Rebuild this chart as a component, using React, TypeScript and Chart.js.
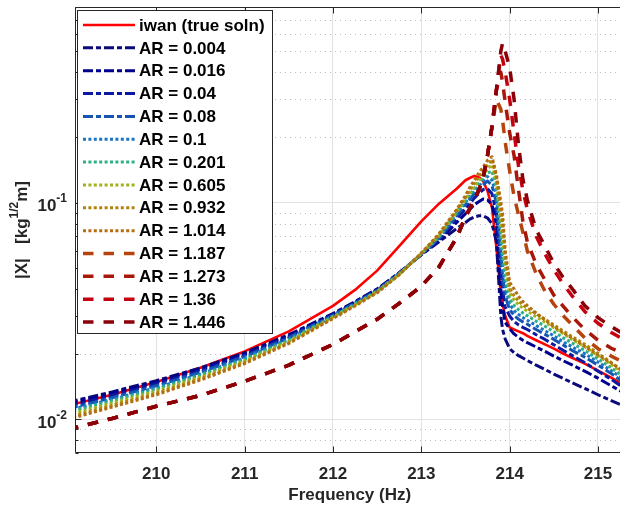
import React, { useEffect, useRef } from 'react';
import { Chart, registerables } from 'chart.js';

Chart.register(...registerables);

const FONT = '"Liberation Sans", Arial, Helvetica, sans-serif';
const AXIS_COLOR = '#262626';

// ---------- data ----------
const FREQ = [209.0, 209.5, 210.0, 210.5, 211.0, 211.5, 212.0, 212.25, 212.5, 212.75, 213.0, 213.2, 213.4, 213.5, 213.55, 213.6, 213.65, 213.7, 213.75, 213.8, 213.85, 213.9, 213.92, 213.95, 214.0, 214.05, 214.1, 214.15, 214.2, 214.3, 214.4, 214.5, 214.6, 214.7, 214.85, 215.0, 215.15, 215.3];

const IWAN = [0.0116, 0.0130, 0.0149, 0.0173, 0.0206, 0.0255, 0.0334, 0.0396, 0.0486, 0.063, 0.082, 0.099, 0.116, 0.127, 0.130, 0.133, 0.131, 0.126, 0.113, 0.095, 0.062, 0.038, 0.034, 0.030, 0.0266, 0.0260, 0.0255, 0.0250, 0.0243, 0.0232, 0.0222, 0.0212, 0.0202, 0.0193, 0.0181, 0.0168, 0.0156, 0.0143];
const AR_0004 = [0.0120, 0.0134, 0.0151, 0.0173, 0.0203, 0.0246, 0.0308, 0.0350, 0.0400, 0.0475, 0.0575, 0.066, 0.076, 0.081, 0.084, 0.086, 0.087, 0.087, 0.085, 0.080, 0.066, 0.030, 0.026, 0.0235, 0.0212, 0.0203, 0.0197, 0.0192, 0.0187, 0.0178, 0.0170, 0.0162, 0.0155, 0.0148, 0.0139, 0.0130, 0.0122, 0.0115];
const AR_0016 = [0.0118, 0.0132, 0.0148, 0.0170, 0.0200, 0.0243, 0.0306, 0.0348, 0.0398, 0.0474, 0.0576, 0.0667, 0.081, 0.089, 0.093, 0.098, 0.101, 0.104, 0.103, 0.098, 0.080, 0.040, 0.033, 0.028, 0.0262, 0.0248, 0.0239, 0.0232, 0.0226, 0.0216, 0.0206, 0.0196, 0.0187, 0.0179, 0.0167, 0.0155, 0.0143, 0.0132];
const AR_004 = [0.0115, 0.0129, 0.0146, 0.0168, 0.0198, 0.0241, 0.0304, 0.0346, 0.0396, 0.0473, 0.0578, 0.0675, 0.084, 0.094, 0.099, 0.105, 0.110, 0.115, 0.116, 0.110, 0.090, 0.050, 0.040, 0.033, 0.0300, 0.0283, 0.0273, 0.0266, 0.0260, 0.0246, 0.0234, 0.0221, 0.0209, 0.0198, 0.0183, 0.0167, 0.0153, 0.0139];
const AR_008 = [0.0112, 0.0126, 0.0143, 0.0165, 0.0195, 0.0238, 0.0302, 0.0344, 0.0394, 0.0471, 0.0579, 0.0683, 0.087, 0.098, 0.104, 0.110, 0.116, 0.121, 0.126, 0.120, 0.100, 0.058, 0.046, 0.037, 0.0322, 0.0302, 0.0290, 0.0282, 0.0275, 0.0260, 0.0247, 0.0234, 0.0221, 0.0209, 0.0194, 0.0178, 0.0163, 0.0147];
const AR_01 = [0.0110, 0.0124, 0.0140, 0.0162, 0.0192, 0.0235, 0.0300, 0.0342, 0.0392, 0.0470, 0.0580, 0.069, 0.089, 0.100, 0.107, 0.113, 0.119, 0.126, 0.132, 0.127, 0.108, 0.064, 0.051, 0.041, 0.0340, 0.0318, 0.0305, 0.0295, 0.0287, 0.0271, 0.0257, 0.0243, 0.0229, 0.0217, 0.0201, 0.0184, 0.0168, 0.0152];
const AR_0201 = [0.0108, 0.0122, 0.0138, 0.0160, 0.0189, 0.0232, 0.0298, 0.0340, 0.0390, 0.0469, 0.0581, 0.0697, 0.090, 0.102, 0.109, 0.116, 0.123, 0.130, 0.137, 0.140, 0.118, 0.072, 0.058, 0.046, 0.0360, 0.0336, 0.0321, 0.0310, 0.0301, 0.0284, 0.0269, 0.0254, 0.0239, 0.0226, 0.0208, 0.0190, 0.0173, 0.0156];
const AR_0605 = [0.0105, 0.0119, 0.0135, 0.0157, 0.0186, 0.0229, 0.0296, 0.0338, 0.0388, 0.0467, 0.0583, 0.0706, 0.091, 0.104, 0.111, 0.119, 0.127, 0.135, 0.143, 0.150, 0.125, 0.083, 0.068, 0.052, 0.0385, 0.0356, 0.0339, 0.0326, 0.0316, 0.0298, 0.0281, 0.0265, 0.0250, 0.0235, 0.0217, 0.0197, 0.0179, 0.0161];
const AR_0932 = [0.0102, 0.0116, 0.0132, 0.0154, 0.0183, 0.0226, 0.0293, 0.0336, 0.0386, 0.0466, 0.0584, 0.0714, 0.092, 0.106, 0.115, 0.123, 0.132, 0.140, 0.150, 0.158, 0.131, 0.094, 0.080, 0.057, 0.0405, 0.0372, 0.0352, 0.0337, 0.0326, 0.0307, 0.0290, 0.0273, 0.0257, 0.0242, 0.0222, 0.0202, 0.0183, 0.0164];
const AR_1014 = [0.0100, 0.0114, 0.0130, 0.0152, 0.0181, 0.0224, 0.0292, 0.0334, 0.0384, 0.0465, 0.0585, 0.072, 0.093, 0.108, 0.118, 0.127, 0.137, 0.146, 0.157, 0.163, 0.135, 0.101, 0.089, 0.060, 0.043, 0.040, 0.037, 0.035, 0.0335, 0.031, 0.0287, 0.0268, 0.0252, 0.0238, 0.0217, 0.0198, 0.0182, 0.0167];
const AR_1187 = [0.0090, 0.0101, 0.0115, 0.0129, 0.0150, 0.0178, 0.0222, 0.0254, 0.0290, 0.0343, 0.0412, 0.0505, 0.069, 0.086, 0.094, 0.1037, 0.114, 0.130, 0.166, 0.224, 0.30, 0.27, 0.24, 0.19, 0.14, 0.107, 0.088, 0.073, 0.060, 0.047, 0.039, 0.0340, 0.0303, 0.0275, 0.0238, 0.0212, 0.0196, 0.0182];
const AR_1273 = [0.0090, 0.0101, 0.0115, 0.0129, 0.0150, 0.0178, 0.0222, 0.0254, 0.0290, 0.0343, 0.0412, 0.0505, 0.069, 0.086, 0.094, 0.1037, 0.114, 0.130, 0.166, 0.224, 0.331, 0.40, 0.36, 0.29, 0.21, 0.165, 0.115, 0.082, 0.066, 0.052, 0.044, 0.0375, 0.0335, 0.0300, 0.0260, 0.0232, 0.0213, 0.0200];
const AR_136 = [0.0090, 0.0101, 0.0115, 0.0129, 0.0150, 0.0178, 0.0222, 0.0254, 0.0290, 0.0343, 0.0412, 0.0505, 0.069, 0.086, 0.094, 0.1037, 0.114, 0.130, 0.166, 0.224, 0.331, 0.48, 0.46, 0.40, 0.30, 0.21, 0.148, 0.114, 0.093, 0.070, 0.058, 0.049, 0.0425, 0.0375, 0.0315, 0.0278, 0.0252, 0.0233];
const AR_1446 = [0.0090, 0.0101, 0.0115, 0.0129, 0.0150, 0.0178, 0.0222, 0.0254, 0.0290, 0.0343, 0.0412, 0.0505, 0.069, 0.086, 0.094, 0.1037, 0.114, 0.130, 0.166, 0.224, 0.331, 0.50, 0.545, 0.50, 0.42, 0.30, 0.185, 0.128, 0.103, 0.075, 0.063, 0.0525, 0.0455, 0.0405, 0.0335, 0.0295, 0.0268, 0.0247];

const SERIES_LABELS = ['iwan (true soln)', 'AR = 0.004', 'AR = 0.016', 'AR = 0.04', 'AR = 0.08', 'AR = 0.1', 'AR = 0.201', 'AR = 0.605', 'AR = 0.932', 'AR = 1.014', 'AR = 1.187', 'AR = 1.273', 'AR = 1.36', 'AR = 1.446'];
const SERIES_VALUES = [IWAN, AR_0004, AR_0016, AR_004, AR_008, AR_01, AR_0201, AR_0605, AR_0932, AR_1014, AR_1187, AR_1273, AR_136, AR_1446];
const SERIES_COLORS = ['#ff0000', '#0a0a7c', '#00008e', '#0c18a2', '#1654b2', '#1a74c2', '#2eaf86', '#a2b21c', '#b2820e', '#b26e10', '#b6440e', '#a8180a', '#c6000e', '#8c0008'];
const SERIES_STYLES = ['solid', 'dashdot', 'dashdot', 'dashdot', 'dashdot', 'dotted', 'dotted', 'dotted', 'dotted', 'dotted', 'dashed', 'dashed', 'dashed', 'dashed'];

const X_TICKS = [210, 211, 212, 213, 214, 215];
const Y_TICKS = [0.007, 0.008, 0.009, 0.01, 0.02, 0.03, 0.04, 0.05, 0.06, 0.07, 0.08, 0.09, 0.1, 0.2, 0.3, 0.4, 0.5, 0.6, 0.7, 0.8];
const Y_DECADES = [0.01, 0.1];
const Y_DECADE_EXPONENTS = ['-2', '-1'];

const X_MIN = 209.08;
const X_MAX = 215.3;
const Y_MIN = 0.007;
const Y_MAX = 0.8;

const X_TITLE = 'Frequency (Hz)';
const Y_TITLE_PARTS = ['|X|   [kg', '1/2', 'm]'];

const STYLE_MAP: Record<string, { dash: number[]; width: number }> = {
  solid: { dash: [], width: 2.6 },
  dashdot: { dash: [10, 3, 5, 3], width: 3 },
  dotted: { dash: [3, 2.4], width: 3 },
  dashed: { dash: [10.5, 10], width: 3.5 },
};

const isDecade = (v: number) => Y_DECADES.some((d) => Math.abs(d - v) / d < 1e-6);

const matlabPlugin = {
  id: 'matlabLook',
  beforeDatasetsDraw(chart: any) {
    const { ctx, chartArea: a, scales } = chart;
    const y = scales.y;
    ctx.save();
    ctx.strokeStyle = '#bdbdbd';
    ctx.lineWidth = 1;
    ctx.setLineDash([1, 4]);
    for (const v of Y_TICKS) {
      if (isDecade(v)) continue;
      const py = Math.round(y.getPixelForValue(v)) + 0.5;
      if (py < a.top || py > a.bottom) continue;
      ctx.beginPath();
      ctx.moveTo(a.left, py);
      ctx.lineTo(a.right, py);
      ctx.stroke();
    }
    ctx.restore();
  },
  afterDatasetsDraw(chart: any) {
    const { ctx, chartArea: a, scales } = chart;
    const x = scales.x;
    const y = scales.y;
    ctx.save();
    ctx.strokeStyle = AXIS_COLOR;
    ctx.lineWidth = 1;
    ctx.setLineDash([]);
    const L = Math.round(a.left) + 0.5;
    const T = Math.round(a.top) + 0.5;
    const B = Math.round(a.bottom) - 0.5;
    const R = a.right;
    ctx.beginPath();
    ctx.moveTo(R, T);
    ctx.lineTo(L, T);
    ctx.lineTo(L, B);
    ctx.lineTo(R, B);
    ctx.stroke();
    for (const v of X_TICKS) {
      const px = Math.round(x.getPixelForValue(v)) + 0.5;
      ctx.beginPath();
      ctx.moveTo(px, B);
      ctx.lineTo(px, B - 6);
      ctx.moveTo(px, T);
      ctx.lineTo(px, T + 6);
      ctx.stroke();
    }
    for (const v of Y_TICKS) {
      const py = Math.round(y.getPixelForValue(v)) + 0.5;
      const len = isDecade(v) ? 6 : 3;
      ctx.beginPath();
      ctx.moveTo(L, py);
      ctx.lineTo(L + len, py);
      ctx.stroke();
    }
    ctx.restore();
  },
  afterDraw(chart: any) {
    const { ctx, chartArea: a, scales } = chart;
    const y = scales.y;
    ctx.save();
    ctx.fillStyle = AXIS_COLOR;
    ctx.textBaseline = 'middle';
    Y_DECADES.forEach((v, i) => {
      const py = y.getPixelForValue(v);
      ctx.font = `bold 12px ${FONT}`;
      const supW = ctx.measureText(Y_DECADE_EXPONENTS[i]).width;
      const right = a.left - 8;
      ctx.textAlign = 'left';
      ctx.fillText(Y_DECADE_EXPONENTS[i], right - supW, py - 4);
      ctx.font = `bold 17px ${FONT}`;
      ctx.textAlign = 'right';
      ctx.fillText('10', right - supW, py + 4);
    });
    const cx = 22;
    const cy = (a.top + a.bottom) / 2;
    ctx.translate(cx, cy);
    ctx.rotate(-Math.PI / 2);
    const fonts = [`bold 17px ${FONT}`, `bold 12px ${FONT}`, `bold 17px ${FONT}`];
    const raise = [0, -7, 0];
    let total = 0;
    const widths = Y_TITLE_PARTS.map((t, i) => {
      ctx.font = fonts[i];
      const w = ctx.measureText(t).width;
      total += w;
      return w;
    });
    let xx = -total / 2;
    ctx.textAlign = 'left';
    Y_TITLE_PARTS.forEach((t, i) => {
      ctx.font = fonts[i];
      ctx.fillText(t, xx, raise[i]);
      xx += widths[i];
    });
    ctx.restore();

    ctx.save();
    const lx = a.left + 2;
    const ly = a.top + 3;
    const lw = 195;
    const lh = 323;
    ctx.fillStyle = '#ffffff';
    ctx.fillRect(lx, ly, lw, lh);
    ctx.strokeStyle = AXIS_COLOR;
    ctx.lineWidth = 1;
    ctx.setLineDash([]);
    ctx.strokeRect(Math.round(lx) + 0.5, Math.round(ly) + 0.5, lw, lh);
    const rowH = 22.85;
    chart.data.datasets.forEach((ds: any, i: number) => {
      const ry = ly + 15 + i * rowH;
      ctx.strokeStyle = ds.borderColor;
      ctx.lineWidth = ds.borderWidth;
      ctx.lineCap = 'butt';
      ctx.setLineDash(ds.borderDash || []);
      ctx.beginPath();
      ctx.moveTo(lx + 6, ry);
      ctx.lineTo(lx + 58, ry);
      ctx.stroke();
      ctx.setLineDash([]);
      ctx.fillStyle = '#000000';
      ctx.font = `bold 17px ${FONT}`;
      ctx.textAlign = 'left';
      ctx.textBaseline = 'middle';
      ctx.fillText(ds.label, lx + 62, ry + 1);
    });
    ctx.restore();
  },
};

export default function App() {
  const ref = useRef<HTMLCanvasElement>(null);

  useEffect(() => {
    if (!ref.current) return;
    const n = SERIES_LABELS.length;
    const datasets = SERIES_LABELS.map((label, i) => {
      const st = STYLE_MAP[SERIES_STYLES[i]];
      return {
        label,
        data: FREQ.map((f, k) => ({ x: f, y: SERIES_VALUES[i][k] })),
        borderColor: SERIES_COLORS[i],
        backgroundColor: SERIES_COLORS[i],
        borderWidth: st.width,
        borderDash: st.dash,
        borderCapStyle: 'butt',
        borderJoinStyle: 'round',
        pointRadius: 0,
        tension: 0,
        fill: false,
        order: n - i,
      };
    });

    const chart = new Chart(ref.current, {
      type: 'line',
      data: { datasets } as any,
      options: {
        responsive: false,
        animation: false,
        devicePixelRatio: 1,
        layout: { padding: { top: 7, right: 5.5, left: 0, bottom: 0 } },
        plugins: { legend: { display: false }, tooltip: { enabled: false } },
        scales: {
          x: {
            type: 'linear',
            min: X_MIN,
            max: X_MAX,
            afterBuildTicks: (s: any) => {
              s.ticks = X_TICKS.map((v) => ({ value: v }));
            },
            afterFit: (s: any) => {
              s.height = 53;
            },
            grid: { color: '#e2e2e2', lineWidth: 1, drawTicks: false },
            border: { display: false },
            ticks: {
              color: AXIS_COLOR,
              font: { family: FONT, size: 17, weight: 'bold' },
              padding: 11,
              maxRotation: 0,
              autoSkip: false,
              callback: (v: any) => String(v),
            },
            title: {
              display: true,
              text: X_TITLE,
              color: AXIS_COLOR,
              font: { family: FONT, size: 17, weight: 'bold' },
              padding: { top: 0, bottom: 0 },
            },
          },
          y: {
            type: 'logarithmic',
            min: Y_MIN,
            max: Y_MAX,
            afterBuildTicks: (s: any) => {
              s.ticks = Y_TICKS.map((v) => ({ value: v }));
            },
            afterFit: (s: any) => {
              s.width = 75;
            },
            grid: {
              color: (c: any) => (c.tick && isDecade(c.tick.value) ? '#e2e2e2' : 'rgba(0,0,0,0)'),
              lineWidth: 1,
              drawTicks: false,
            },
            border: { display: false },
            ticks: { display: false },
          },
        },
      } as any,
      plugins: [matlabPlugin],
    });
    return () => chart.destroy();
  }, []);

  return (
    <div style={{ position: 'fixed', left: 0, top: 0, width: 620, height: 506, overflow: 'hidden', background: '#ffffff' }}>
      <canvas ref={ref} width={630} height={506} style={{ display: 'block' }} />
    </div>
  );
}
